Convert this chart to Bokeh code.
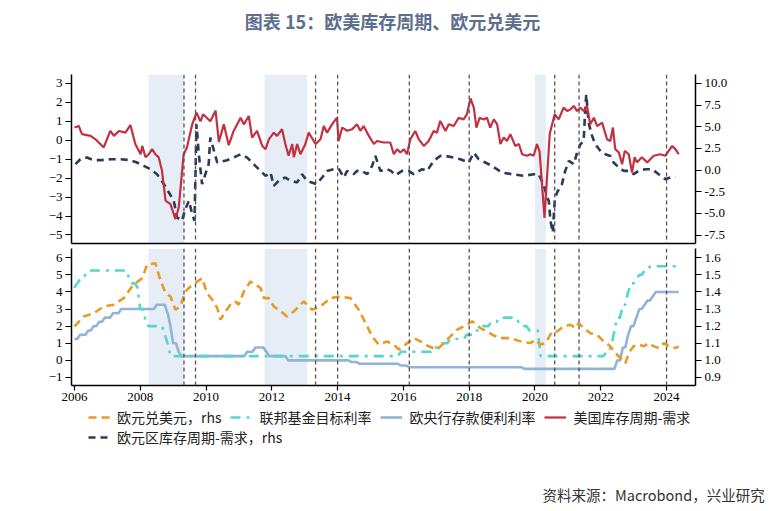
from bokeh.plotting import figure
from bokeh.models import (Range1d, LinearAxis, BoxAnnotation, Span, Legend, LegendItem,
                          FixedTicker, NumeralTickFormatter, Label, Title)
from bokeh.layouts import column
from bokeh.embed import file_html
from bokeh.resources import INLINE

# ---------------- data ----------------
title_text = "图表 15：欧美库存周期、欧元兑美元"
source_text = "资料来源：Macrobond，兴业研究"

names = ["欧元兑美元，rhs", "联邦基金目标利率", "欧央行存款便利利率", "美国库存周期-需求", "欧元区库存周期-需求，rhs"]

shade_start = [2008.25, 2011.78, 2020.00]
shade_end = [2009.33, 2013.07, 2020.33]
event_lines = [2009.33, 2009.68, 2013.33, 2014.00, 2016.18, 2018.00, 2020.60, 2021.34, 2024.00]

year_ticks = [2006, 2008, 2010, 2012, 2014, 2016, 2018, 2020, 2022, 2024]
top_left_ticks = [-5, -4, -3, -2, -1, 0, 1, 2, 3]
top_right_ticks = [-7.5, -5.0, -2.5, 0.0, 2.5, 5.0, 7.5, 10.0]
bot_left_ticks = [-1, 0, 1, 2, 3, 4, 5, 6]
bot_right_ticks = [0.9, 1.0, 1.1, 1.2, 1.3, 1.4, 1.5, 1.6]

us_t = [2006.00, 2006.13, 2006.23, 2006.49, 2006.64, 2006.89, 2007.09, 2007.20, 2007.35, 2007.55,
        2007.70, 2007.85, 2008.01, 2008.06, 2008.16, 2008.26, 2008.36, 2008.46, 2008.56, 2008.66,
        2008.77, 2008.92, 2009.07, 2009.17, 2009.32, 2009.42, 2009.58, 2009.71, 2009.83, 2009.91,
        2010.13, 2010.29, 2010.39, 2010.54, 2010.69, 2010.84, 2011.05, 2011.15, 2011.30, 2011.40,
        2011.55, 2011.71, 2011.81, 2011.91, 2012.06, 2012.16, 2012.31, 2012.41, 2012.51, 2012.62,
        2012.67, 2012.77, 2012.87, 2013.02, 2013.12, 2013.33, 2013.48, 2013.58, 2013.68, 2013.83,
        2013.98, 2014.03, 2014.14, 2014.29, 2014.44, 2014.59, 2014.69, 2014.79, 2014.95, 2015.10,
        2015.20, 2015.40, 2015.60, 2015.71, 2015.81, 2015.91, 2016.01, 2016.11, 2016.21, 2016.36,
        2016.47, 2016.62, 2016.77, 2016.92, 2017.02, 2017.12, 2017.28, 2017.38, 2017.53, 2017.68,
        2017.83, 2017.93, 2018.04, 2018.14, 2018.22, 2018.32, 2018.44, 2018.54, 2018.64, 2018.75,
        2018.85, 2018.95, 2019.05, 2019.15, 2019.25, 2019.40, 2019.51, 2019.61, 2019.76, 2019.86,
        2019.96, 2020.06, 2020.14, 2020.29, 2020.45, 2020.60, 2020.72, 2020.87, 2020.98, 2021.08,
        2021.18, 2021.28, 2021.38, 2021.48, 2021.58, 2021.68, 2021.79, 2021.89, 2022.04, 2022.19,
        2022.29, 2022.37, 2022.44, 2022.55, 2022.65, 2022.73, 2022.85, 2022.95, 2023.03, 2023.10,
        2023.25, 2023.41, 2023.61, 2023.81, 2023.96, 2024.17, 2024.27, 2024.37]
us_v = [0.67, 0.75, 0.32, 0.23, 0.05, -0.38, 0.49, 0.23, 0.49, 0.40,
        0.80, -0.20, -0.74, -0.30, -0.90, -0.74, -0.47, -0.74, -0.90, -1.60,
        -3.19, -3.37, -4.16, -3.55, -0.74, -0.38, 0.84, 1.46, 1.00, 1.37,
        1.00, 1.56, -0.09, 0.84, -0.26, 0.49, 1.19, 0.84, 1.28, 0.14,
        0.49, -0.30, -0.47, 0.05, 0.40, 0.23, 0.58, -0.20, -0.82, -0.20,
        -0.90, -0.20, -0.74, -0.20, 0.40, -0.20, 0.05, 0.75, 0.40, 0.84,
        1.19, -0.04, 0.67, 0.50, 0.58, 0.84, 0.50, 0.75, 0.23, -0.20,
        -0.04, -0.12, -0.12, -0.74, -0.47, -0.65, -0.47, -0.74, 0.05, 0.49,
        0.05, -0.30, -0.04, 0.49, 0.40, 1.02, 0.49, 0.84, 0.75, 1.19,
        1.10, 1.37, 2.21, 1.72, 0.67, 1.19, 1.10, 1.19, 0.67, 1.10,
        0.84, -0.20, 0.14, -0.04, 0.32, -0.30, -0.20, -0.74, -0.82, -0.74,
        -0.82, -0.20, -0.60, -4.10, 0.36, 1.37, 1.10, 1.72, 1.54, 1.63,
        1.81, 1.54, 1.72, 1.54, 1.81, 0.84, 1.19, 0.75, 0.93, 0.05,
        -0.04, 0.67, -0.47, -0.65, -1.26, -0.56, -0.74, -1.70, -0.90, -1.17,
        -0.90, -1.17, -0.82, -0.74, -0.82, -0.30, -0.47, -0.74]

eu_t = [2006.03, 2006.18, 2006.38, 2006.59, 2006.79, 2007.09, 2007.40, 2007.70, 2007.90, 2008.11,
        2008.31, 2008.51, 2008.72, 2008.87, 2009.02, 2009.12, 2009.27, 2009.37, 2009.48, 2009.58,
        2009.65, 2009.71, 2009.78, 2009.88, 2009.98, 2010.08, 2010.13, 2010.34, 2010.64, 2010.84,
        2011.05, 2011.25, 2011.50, 2011.81, 2011.96, 2012.06, 2012.21, 2012.41, 2012.57, 2012.77,
        2012.92, 2013.07, 2013.36, 2013.53, 2013.68, 2013.88, 2014.04, 2014.19, 2014.29, 2014.49,
        2014.59, 2014.74, 2014.90, 2015.05, 2015.15, 2015.30, 2015.50, 2015.62, 2015.76, 2015.96,
        2016.16, 2016.31, 2016.57, 2016.72, 2016.92, 2017.12, 2017.28, 2017.53, 2017.73, 2017.99,
        2018.14, 2018.29, 2018.49, 2018.69, 2019.00, 2019.30, 2019.66, 2019.96, 2020.11, 2020.26,
        2020.37, 2020.42, 2020.47, 2020.54, 2020.60, 2020.67, 2020.82, 2020.92, 2021.03, 2021.18,
        2021.28, 2021.38, 2021.48, 2021.53, 2021.56, 2021.63, 2021.73, 2021.83, 2021.99, 2022.14,
        2022.29, 2022.39, 2022.55, 2022.70, 2022.85, 2023.00, 2023.15, 2023.36, 2023.56, 2023.76,
        2023.96, 2024.12, 2024.27]
eu_v = [0.68, 1.25, 1.44, 1.14, 1.14, 1.25, 1.25, 1.14, 0.87, 0.48,
        0.10, -0.48, -1.63, -2.59, -3.55, -5.47, -5.85, -4.50, -3.55, -5.08,
        -5.85, 5.28, 1.82, -1.63, -0.48, 0.68, 3.75, 0.87, 1.14, 1.44,
        1.82, 1.44, 0.48, -0.67, -0.29, -1.82, -1.24, -0.86, -1.24, -1.43,
        -0.48, -1.24, -1.63, -0.86, -0.10, 0.10, 0.10, -0.86, -0.10, -0.48,
        -0.10, -0.10, -0.48, 0.48, 1.63, -0.10, 0.10, -0.10, -0.60, -0.10,
        -0.10, -0.48, 0.10, -0.10, 1.06, 1.63, 1.63, 1.44, 1.25, 0.87,
        2.01, 1.25, 0.87, 0.48, -0.29, -0.48, -0.67, -0.48, -0.48, -1.63,
        -3.17, -3.55, -5.85, -7.20, -3.55, -2.59, -1.63, -0.10, 1.06, 0.68,
        2.01, 2.97, 3.36, 7.20, 8.73, 5.50, 4.00, 3.00, 2.20, 1.82,
        1.63, 0.87, 0.29, -0.10, -0.10, -0.48, -0.10, 0.10, 0.10, -0.48,
        -1.05, -0.86, -0.78]

fx_t = [2006.00, 2006.28, 2006.59, 2006.89, 2007.19, 2007.50, 2007.75, 2008.06, 2008.21, 2008.46,
        2008.61, 2008.77, 2008.92, 2009.07, 2009.22, 2009.37, 2009.53, 2009.68, 2009.88, 2010.03,
        2010.19, 2010.34, 2010.44, 2010.59, 2010.74, 2010.89, 2010.99, 2011.15, 2011.35, 2011.66,
        2011.76, 2011.91, 2012.06, 2012.26, 2012.46, 2012.67, 2012.97, 2013.22, 2013.48, 2013.78,
        2014.08, 2014.39, 2014.64, 2014.85, 2015.05, 2015.25, 2015.51, 2015.76, 2015.86, 2016.06,
        2016.31, 2016.52, 2016.77, 2017.02, 2017.23, 2017.43, 2017.63, 2017.83, 2018.09, 2018.34,
        2018.54, 2018.75, 2018.95, 2019.25, 2019.56, 2019.86, 2020.01, 2020.16, 2020.32, 2020.52,
        2020.67, 2020.87, 2021.08, 2021.23, 2021.33, 2021.48, 2021.68, 2021.88, 2022.09, 2022.29,
        2022.44, 2022.60, 2022.75, 2022.85, 2023.00, 2023.15, 2023.31, 2023.46, 2023.61, 2023.77,
        2023.92, 2024.07, 2024.27, 2024.37]
fx_v = [1.198, 1.257, 1.276, 1.315, 1.325, 1.364, 1.432, 1.481, 1.559, 1.568,
        1.471, 1.393, 1.373, 1.296, 1.315, 1.403, 1.432, 1.452, 1.481, 1.393,
        1.355, 1.306, 1.238, 1.286, 1.325, 1.345, 1.325, 1.403, 1.461, 1.422,
        1.364, 1.364, 1.315, 1.290, 1.257, 1.286, 1.345, 1.296, 1.315, 1.364,
        1.373, 1.364, 1.296, 1.218, 1.140, 1.092, 1.111, 1.082, 1.063, 1.092,
        1.130, 1.111, 1.082, 1.063, 1.101, 1.140, 1.179, 1.198, 1.228, 1.189,
        1.169, 1.145, 1.130, 1.130, 1.111, 1.101, 1.120, 1.092, 1.101, 1.169,
        1.169, 1.198, 1.208, 1.189, 1.218, 1.189, 1.159, 1.150, 1.111, 1.082,
        1.043, 1.014, 0.984, 1.043, 1.082, 1.092, 1.082, 1.101, 1.082, 1.072,
        1.101, 1.082, 1.072, 1.082]

# policy rates: month of each change and new level
fed_t = [2006.00, 2006.08, 2006.17, 2006.33, 2006.42, 2007.67, 2007.75, 2007.92, 2008.00, 2008.17,
         2008.25, 2008.75, 2008.83, 2008.92, 2015.92, 2016.92, 2017.17, 2017.42, 2017.92, 2018.17,
         2018.42, 2018.67, 2018.92, 2019.50, 2019.67, 2019.83, 2020.17, 2022.17, 2022.33, 2022.42,
         2022.50, 2022.67, 2022.83, 2022.92, 2023.08, 2023.17, 2023.33, 2023.50]
fed_v = [4.25, 4.50, 4.75, 5.00, 5.25, 4.75, 4.50, 4.25, 3.00, 2.25,
         2.00, 1.50, 1.00, 0.25, 0.50, 0.75, 1.00, 1.25, 1.50, 1.75,
         2.00, 2.25, 2.50, 2.25, 2.00, 1.75, 0.25, 0.50, 1.00, 1.75,
         2.50, 3.25, 4.00, 4.50, 4.75, 5.00, 5.25, 5.50]
ecb_t = [2006.00, 2006.17, 2006.42, 2006.58, 2006.75, 2006.92, 2007.17, 2007.42, 2008.50, 2008.83,
         2008.92, 2009.00, 2009.17, 2009.25, 2011.25, 2011.50, 2011.83, 2011.92, 2012.50, 2014.42,
         2014.67, 2015.92, 2016.17, 2019.67, 2022.50, 2022.67, 2022.83, 2022.92, 2023.08, 2023.17,
         2023.33, 2023.42, 2023.58, 2023.67]
ecb_v = [1.25, 1.50, 1.75, 2.00, 2.25, 2.50, 2.75, 3.00, 3.25, 2.75,
         2.00, 1.00, 0.50, 0.25, 0.50, 0.75, 0.50, 0.25, 0.00, -0.10,
         -0.20, -0.30, -0.40, -0.50, 0.00, 0.75, 1.50, 2.00, 2.50, 3.00,
         3.25, 3.50, 3.75, 4.00]
last_month = 2024.37

# ---------------- styles ----------------
RED = "#c3303f"
NAVY = "#2b3a57"
ORANGE = "#e89a27"
TURQ = "#55d6cc"
STEEL = "#93b3d6"
SHADE = "#e6edf6"
AXIS_FONT = "Liberation Serif"
CJK = "Noto Sans CJK SC"

X_RANGE = Range1d(2005.91, 2024.88)
W = 784
FRAME_L, FRAME_R = 71, 695
BL, BR = FRAME_L, W - FRAME_R

STY = {
    "fx": dict(line_color=ORANGE, line_width=2.6, line_dash="8 5"),
    "fed": dict(line_color=TURQ, line_width=2.6, line_dash="10 6 3 6"),
    "ecb": dict(line_color=STEEL, line_width=2.6),
    "us": dict(line_color=RED, line_width=2.2),
    "eu": dict(line_color=NAVY, line_width=2.6, line_dash="7 5"),
}


def monthly_steps(ts, vs, end):
    xs, ys = [ts[0]], [vs[0]]
    for i in range(1, len(ts)):
        xs += [ts[i] - 1 / 12, ts[i]]
        ys += [vs[i - 1], vs[i]]
    xs.append(end)
    ys.append(vs[-1])
    return xs, ys


def style_axis(ax, ticks, fmt=None):
    ax.ticker = FixedTicker(ticks=ticks)
    if fmt:
        ax.formatter = NumeralTickFormatter(format=fmt)
    ax.axis_line_color = "black"
    ax.axis_line_width = 1.5
    ax.major_tick_line_color = "black"
    ax.major_tick_line_width = 1.2
    ax.major_tick_out = 6
    ax.major_tick_in = 0
    ax.minor_tick_line_color = None
    ax.major_label_text_font = AXIS_FONT
    ax.major_label_text_font_size = "13px"
    ax.major_label_text_color = "black"
    ax.major_label_standoff = 3


def add_events(p):
    for s, e in zip(shade_start, shade_end):
        p.add_layout(BoxAnnotation(left=s, right=e, fill_color=SHADE, fill_alpha=1.0,
                                   line_color=None, level="underlay"))
    for x in event_lines:
        p.add_layout(Span(location=x, dimension="height", line_color="#555555",
                          line_width=1.3, line_dash="4 3"))


def strip(height, bottom=0):
    s = figure(width=W, height=height, x_range=Range1d(FRAME_L, FRAME_R),
               y_range=Range1d(0, height - bottom),
               output_backend="svg", toolbar_location=None, x_axis_type=None, y_axis_type=None,
               min_border_left=BL, min_border_right=BR, min_border_top=0, min_border_bottom=bottom)
    s.grid.visible = False
    s.outline_line_color = None
    return s


# ---------------- title strip ----------------
TH = 40
head = strip(TH)
head.add_layout(Label(x=392, y=TH - 20, text=title_text, text_align="center",
                      text_baseline="middle", text_font=CJK, text_font_size="18px",
                      text_font_style="bold", text_color="#5d6f8f"))

# ---------------- top panel ----------------
top = figure(width=W, height=245 - TH, x_range=X_RANGE, y_range=Range1d(-5.45, 3.47),
             output_backend="svg", toolbar_location=None,
             min_border_left=BL, min_border_right=BR, min_border_top=74 - TH, min_border_bottom=2)
top.extra_y_ranges = {"r": Range1d(-8.48, 11.03)}
top.grid.visible = False
top.outline_line_color = None

style_axis(top.yaxis[0], top_left_ticks)
top_r = LinearAxis(y_range_name="r")
style_axis(top_r, top_right_ticks, "0.0")
top.add_layout(top_r, "right")
xa = top.xaxis[0]
xa.ticker = FixedTicker(ticks=[])
xa.axis_line_color = "black"
xa.axis_line_width = 1.5
xa.major_tick_out = 0
xa.major_tick_in = 0
xa.major_label_text_font_size = "0px"
xa.major_label_standoff = 0
xa.minor_tick_line_color = None

add_events(top)
top.line(eu_t, eu_v, y_range_name="r", **STY["eu"])
top.line(us_t, us_v, **STY["us"])

# ---------------- bottom panel ----------------
bot = figure(width=W, height=162, x_range=X_RANGE, y_range=Range1d(-1.47, 6.54),
             output_backend="svg", toolbar_location=None,
             min_border_left=BL, min_border_right=BR, min_border_top=3, min_border_bottom=22)
bot.extra_y_ranges = {"r": Range1d(0.853, 1.654)}
bot.grid.visible = False
bot.outline_line_color = None

style_axis(bot.yaxis[0], bot_left_ticks)
bot_r = LinearAxis(y_range_name="r")
style_axis(bot_r, bot_right_ticks, "0.0")
bot.add_layout(bot_r, "right")
style_axis(bot.xaxis[0], year_ticks)
bot.xaxis[0].major_tick_out = 5
bot.xaxis[0].major_label_standoff = 2

add_events(bot)
fx, fy = monthly_steps(fed_t, fed_v, last_month)
ex, ey = monthly_steps(ecb_t, ecb_v, last_month)
bot.line(ex, ey, **STY["ecb"])
bot.line(fx, fy, **STY["fed"])
bot.line(fx_t, fx_v, y_range_name="r", **STY["fx"])

# ---------------- legend + source strip ----------------
LH, LB = 104, 30
leg = strip(LH, LB)
# proxies carry the real series but lie outside this strip's x-range, so only legend glyphs show
proxies = {
    "fx": leg.line(fx_t, fx_v, **STY["fx"]),
    "fed": leg.line(fx, fy, **STY["fed"]),
    "ecb": leg.line(ex, ey, **STY["ecb"]),
    "us": leg.line(us_t, us_v, **STY["us"]),
    "eu": leg.line(eu_t, eu_v, **STY["eu"]),
}


def make_legend(items, loc):
    return Legend(items=items, orientation="horizontal", location=loc,
                  label_text_font=CJK, label_text_font_size="14px", label_text_color="#222222",
                  glyph_width=22, glyph_height=10, label_height=14, label_standoff=7, spacing=9,
                  padding=0, margin=0, border_line_color=None, background_fill_alpha=0)


leg1 = make_legend([LegendItem(label=names[0], renderers=[proxies["fx"]]),
                    LegendItem(label=names[1], renderers=[proxies["fed"]]),
                    LegendItem(label=names[2], renderers=[proxies["ecb"]]),
                    LegendItem(label=names[3], renderers=[proxies["us"]])], (17, 54))
leg2 = make_legend([LegendItem(label=names[4], renderers=[proxies["eu"]])], (17, 34))
leg.add_layout(leg1, "center")
leg.add_layout(leg2, "center")
leg.add_layout(Title(text=source_text, align="left", offset=471, standoff=0,
                     text_font=CJK, text_font_size="14.5px", text_font_style="normal",
                     text_color="#333333"), "below")

layout = column(head, top, bot, leg, spacing=0)
open("out.html", "w").write(file_html(layout, INLINE))
